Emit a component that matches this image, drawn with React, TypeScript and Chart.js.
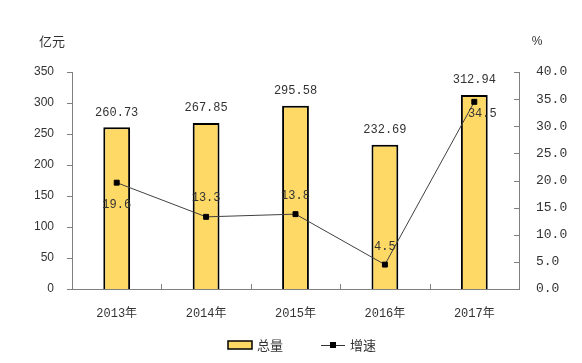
import React, { useEffect, useRef } from "react";
import { Chart, registerables } from "chart.js";

Chart.register(...registerables);

const categories = ["2013年", "2014年", "2015年", "2016年", "2017年"];
const totals = [260.73, 267.85, 295.58, 232.69, 312.94];
const growth = [19.6, 13.3, 13.8, 4.5, 34.5];
const totalLabel = "总量";
const growthLabel = "增速";
const leftUnit = "亿元";
const rightUnit = "%";

const MONO = "'Liberation Mono', 'Noto Sans CJK SC', monospace";
const SANS = "'Liberation Sans', Arial, sans-serif";
const CJK = "'Noto Sans CJK SC', sans-serif";
const BAR_FILL = "#FFD966";

// growth label offsets relative to point (dx, dy)
const growthLabelOffsets = [
  [0, 22],
  [0, -19],
  [0, -18],
  [0, -18],
  [8, 12],
];

const overlay = {
  id: "overlay",
  afterDraw(chart: any) {
    const ctx = chart.ctx;
    const x = chart.scales.x;
    const y = chart.scales.y;
    const y1 = chart.scales.y1;
    const area = chart.chartArea;
    ctx.save();
    ctx.strokeStyle = "#7f7f7f";
    ctx.lineWidth = 1;
    y.ticks.forEach((t: any) => {
      const py = Math.round(y.getPixelForValue(t.value)) + 0.5;
      ctx.beginPath();
      ctx.moveTo(area.left - 5, py);
      ctx.lineTo(area.left, py);
      ctx.stroke();
    });
    y1.ticks.forEach((t: any) => {
      const py = Math.round(y1.getPixelForValue(t.value)) + 0.5;
      ctx.beginPath();
      ctx.moveTo(area.right - 5, py);
      ctx.lineTo(area.right, py);
      ctx.stroke();
    });
    for (let i = 1; i < categories.length; i++) {
      const px = Math.round((x.getPixelForValue(i - 1) + x.getPixelForValue(i)) / 2) + 0.5;
      ctx.beginPath();
      ctx.moveTo(px, area.bottom - 5);
      ctx.lineTo(px, area.bottom);
      ctx.stroke();
    }
    ctx.fillStyle = "#333";
    ctx.font = "12px " + MONO;
    ctx.textAlign = "center";
    ctx.textBaseline = "middle";
    totals.forEach((v, i) => {
      ctx.fillText(v.toFixed(2), x.getPixelForValue(i), y.getPixelForValue(v) - 15);
    });
    growth.forEach((v, i) => {
      const [dx, dy] = growthLabelOffsets[i];
      ctx.fillText(v.toFixed(1), x.getPixelForValue(i) + dx, y1.getPixelForValue(v) + dy);
    });
    ctx.font = "13px " + CJK;
    ctx.fillStyle = "#333";
    ctx.fillText(leftUnit, 52, 41);
    ctx.font = "12px " + SANS;
    ctx.fillText(rightUnit, 537, 42);
    // legend
    ctx.fillStyle = BAR_FILL;
    ctx.fillRect(228, 341, 24, 8);
    ctx.strokeStyle = "#000";
    ctx.lineWidth = 1.5;
    ctx.strokeRect(228, 341, 24, 8);
    ctx.fillStyle = "#333";
    ctx.font = "13px " + CJK;
    ctx.textAlign = "left";
    ctx.fillText(totalLabel, 257, 345);
    ctx.strokeStyle = "#333";
    ctx.lineWidth = 1;
    ctx.beginPath();
    ctx.moveTo(321, 345.5);
    ctx.lineTo(345, 345.5);
    ctx.stroke();
    ctx.fillStyle = "#000";
    ctx.fillRect(330, 342, 6, 6);
    ctx.fillStyle = "#333";
    ctx.fillText(growthLabel, 350, 345);
    ctx.restore();
  },
};

export default function App() {
  const ref = useRef<HTMLCanvasElement>(null);
  useEffect(() => {
    document.body.style.margin = "0";
    const chart = new Chart(ref.current as HTMLCanvasElement, {
      data: {
        labels: categories,
        datasets: [
          {
            type: "line",
            label: growthLabel,
            data: growth,
            yAxisID: "y1",
            borderColor: "#404040",
            borderWidth: 1,
            pointStyle: "rect",
            pointRadius: 3.5,
            pointBackgroundColor: "#000",
            pointBorderColor: "#000",
            tension: 0,
            order: 0,
          } as any,
          {
            type: "bar",
            label: totalLabel,
            data: totals,
            yAxisID: "y",
            backgroundColor: BAR_FILL,
            borderColor: "#000",
            borderWidth: 2,
            categoryPercentage: 1,
            barPercentage: 0.3,
            order: 1,
          } as any,
        ],
      },
      options: {
        responsive: false,
        animation: false,
        layout: { padding: { top: 72, bottom: 44, left: 0, right: 0 } },
        plugins: { legend: { display: false }, tooltip: { enabled: false } },
        scales: {
          x: {
            offset: true,
            grid: { display: false },
            border: { display: true, color: "#7f7f7f", width: 1 },
            ticks: { font: { size: 12, family: MONO }, color: "#333", padding: 10, maxRotation: 0 },
            afterFit: (s: any) => { s.height = 30; },
          },
          y: {
            position: "left",
            min: 0,
            max: 350,
            grid: { display: false },
            border: { display: true, color: "#7f7f7f", width: 1 },
            ticks: { stepSize: 50, font: { size: 12, family: SANS }, color: "#333", padding: 10 },
            afterFit: (s: any) => { s.width = 72; },
          },
          y1: {
            position: "right",
            min: 0,
            max: 40,
            grid: { display: false },
            border: { display: true, color: "#7f7f7f", width: 1 },
            ticks: {
              stepSize: 5,
              font: { size: 13, family: MONO },
              color: "#333",
              padding: 9,
              callback: (v: any) => Number(v).toFixed(1),
            },
            afterFit: (s: any) => { s.width = 63; },
          },
        },
      },
      plugins: [overlay],
    });
    return () => chart.destroy();
  }, []);
  return (
    <div style={{ position: "fixed", left: 0, top: 0, width: 582, height: 363, background: "#fff" }}>
      <canvas ref={ref} width={582} height={363} />
    </div>
  );
}
